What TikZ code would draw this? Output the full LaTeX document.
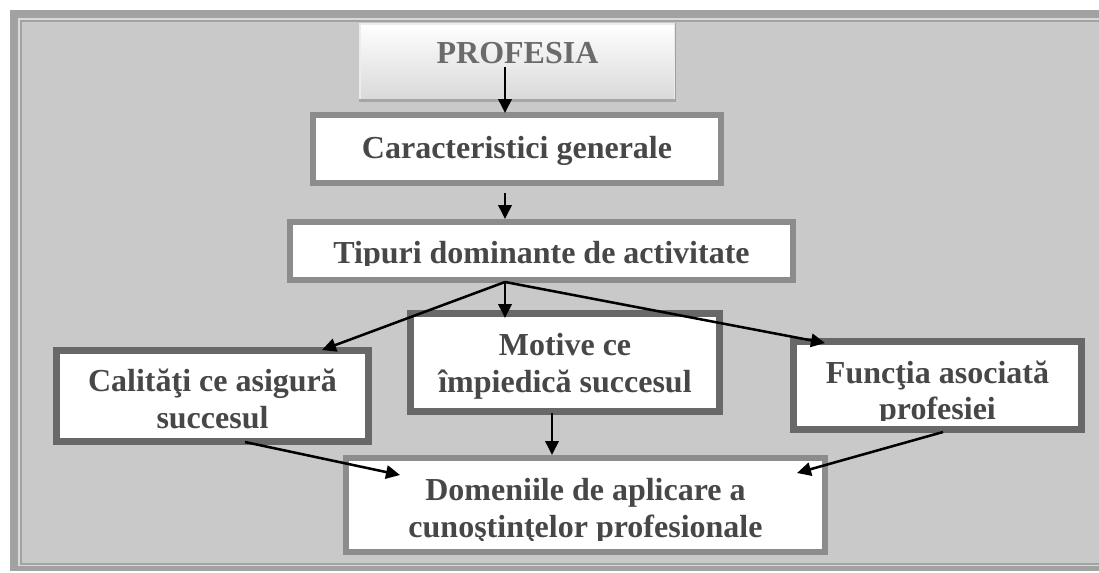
\documentclass[tikz,border=0pt]{standalone}
\usepackage{fontspec}
\setmainfont{Liberation Serif}
\usepackage{tikz}
\usetikzlibrary{positioning}
\usetikzlibrary{calc}
\usetikzlibrary{arrows.meta}

\definecolor{framegray}{HTML}{A2A2A2}
\definecolor{paper}{HTML}{C9C9C9}
\definecolor{lightborder}{HTML}{8C8C8C}
\definecolor{darkborder}{HTML}{686868}
\definecolor{textgray}{HTML}{474747}
\definecolor{titlegray}{HTML}{6B6B6B}

\begin{document}
\begin{tikzpicture}[x=0.75pt, y=-0.75pt,
                          lightbox/.style={rectangle, draw=lightborder, fill=white, line width=4.5pt, inner sep=0pt},
                          darkbox/.style={rectangle, draw=darkborder, fill=white, line width=5.25pt, inner sep=0pt},
                          titlebox/.style={rectangle, draw=gray!15, top color=white, bottom color=gray!30, line width=0.8pt, inner sep=0pt},
                          boxtext/.style={font=\fontsize{24pt}{27.6pt}\selectfont\bfseries, text=textgray, align=center, inner sep=0pt},
                          arrow/.style={-{Triangle[length=10.5pt, width=10pt]}, line width=1.9pt, black},
                      ]
                      \useasboundingbox (0,0) rectangle (1099,572);
                      %Frame
                      \fill[white] (0,0) rectangle (1099,572);
                      \fill[framegray] (10,10) rectangle (1099,571);
                      \fill[gray!30] (18,18) rectangle (1099,566);
                      \fill[framegray] (20,20) rectangle (1099,565);
                      \fill[paper] (22,22) rectangle (1099,563);

                      %Nodes
                      \node[titlebox, minimum width=236.25pt, minimum height=57pt]   (profesia)  at (517.5,62)   {};
                      \node[lightbox, minimum width=306pt, minimum height=51pt]      (caract)    at (517,149)    {};
                      \node[lightbox, minimum width=377.25pt, minimum height=43.5pt] (tipuri)    at (541.5,251)  {};
                      \node[darkbox, minimum width=231.75pt, minimum height=73.5pt]  (motive)    at (565,362.5)  {};
                      \node[darkbox, minimum width=234pt, minimum height=68.25pt]    (calitati)  at (212.5,396)  {};
                      \node[darkbox, minimum width=216pt, minimum height=66pt]       (functia)   at (937.5,385.5) {};
                      \node[lightbox, minimum width=359.25pt, minimum height=70.5pt] (domenii)   at (585.5,505)  {};
                      \draw[gray!70, line width=2.5pt] (profesia.south west) -- (profesia.south east);
                      \draw[gray!75, line width=1.2pt] (profesia.south east) -- (profesia.north east);

                      %Texts
                      \node[boxtext, text=titlegray] (profesiatext) at ($(profesia.center)+(0,-9.4)$) {PROFESIA};
                      \node[boxtext] (caracttext)   at ($(caract.center)+(0,1.6)$)   {Caracteristici generale};
                      \begin{scope}
                        \clip (tipuri.north west) rectangle ($(tipuri.south east)+(0,-18)$);
                        \node[boxtext] (tipuritext) at ($(tipuri.center)+(0,4.6)$) {Tipuri dominante de activitate};
                      \end{scope}
                      \node[boxtext] (motivetext)   at ($(motive.center)+(0,3.8)$)   {Motive ce\\împiedică succesul};
                      \node[boxtext] (calitatitext) at ($(calitati.center)+(0,3)$)   {Calităţi ce asigură\\succesul};
                      \begin{scope}
                        \clip (functia.north west) rectangle ($(functia.south east)+(0,-13)$);
                        \node[boxtext] (functiatext) at ($(functia.center)+(0,8.2)$) {Funcţia asociată\\profesiei};
                      \end{scope}
                      \begin{scope}
                        \clip (domenii.north west) rectangle ($(domenii.south east)+(0,-15)$);
                        \node[boxtext] (domeniitext) at ($(domenii.center)+(0,6)$) {Domeniile de aplicare a\\cunoştinţelor profesionale};
                      \end{scope}

                      %Lines
                      \coordinate (fork) at ($(tipuri.south)+(-36.5,-1)$);
                      \draw[arrow] ($(profesia.center)+(-12.5,5)$) -- ($(caract.north)+(-12,1)$);
                      \draw[arrow] ($(caract.south)+(-12,7)$) -- ($(tipuri.north)+(-36.5,0)$);
                      \draw[arrow] (fork) -- ($(calitati.north)+(109.5,3)$);
                      \draw[arrow] (fork) -- ($(motive.north)+(-60,8)$);
                      \draw[arrow] (fork) -- ($(functia.north)+(-112.5,5)$);
                      \draw[arrow] ($(calitati.south)+(32.5,-3)$) -- ($(domenii.north west)+(57,20)$);
                      \draw[arrow] ($(motive.south)+(-13,-2)$) -- ($(domenii.north)+(-33.5,0)$);
                      \draw[arrow] ($(functia.south)+(5.5,-1)$) -- ($(domenii.north east)+(-31,18)$);
                  \end{tikzpicture}
\end{document}
